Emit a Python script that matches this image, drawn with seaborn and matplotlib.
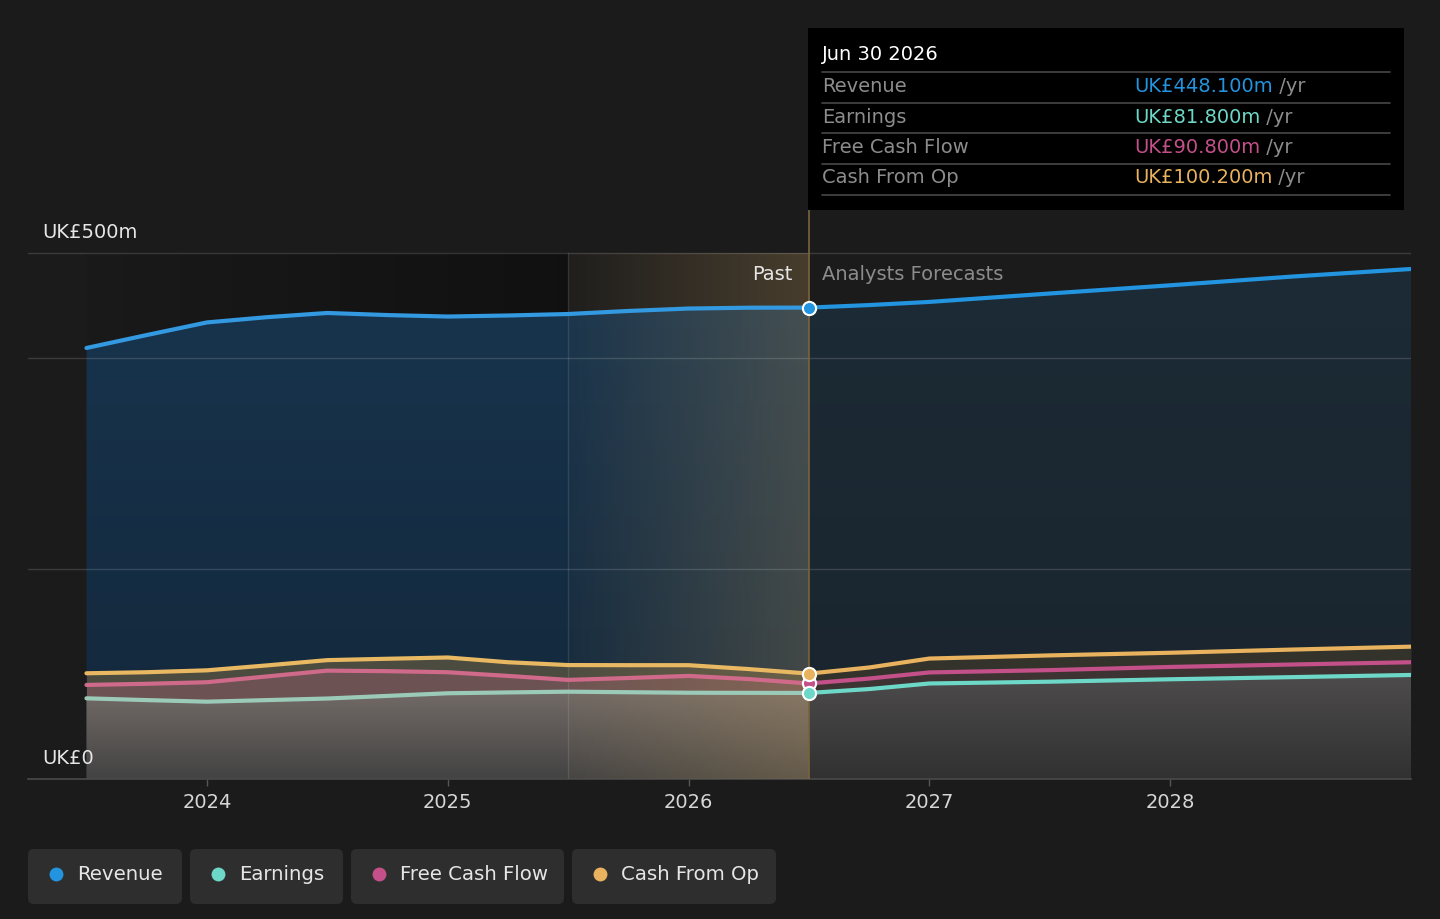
import matplotlib
matplotlib.use("Agg")
import matplotlib.pyplot as plt
from matplotlib.patches import Rectangle, FancyBboxPatch
import matplotlib.colors as mcolors
import seaborn as sns
import pandas as pd
import numpy as np

# ---- data (UK£ m, annualised), x in decimal years ----
years = [2023.5, 2023.75, 2024.0, 2024.25, 2024.5, 2024.75, 2025.0, 2025.25,
         2025.5, 2025.75, 2026.0, 2026.25, 2026.5,
         2026.75, 2027.0, 2027.5, 2028.0, 2028.5, 2029.0]
revenue = [409.7, 422.0, 434.0, 439.0, 443.0, 441.0, 439.6, 440.6,
           442.0, 444.9, 447.2, 448.0, 448.1,
           450.5, 453.5, 461.5, 469.3, 477.5, 484.8]
earnings = [76.7, 75.0, 73.5, 75.0, 76.5, 79.0, 81.5, 82.3,
            83.0, 82.5, 82.0, 81.9, 81.8,
            85.5, 90.8, 92.5, 94.8, 96.8, 98.9]
free_cash_flow = [89.4, 90.5, 92.0, 97.5, 103.0, 102.5, 101.5, 98.0,
                  94.2, 96.0, 98.0, 95.0, 90.8,
                  95.5, 101.3, 103.5, 106.5, 108.8, 111.0]
cash_from_op = [100.5, 101.5, 103.3, 108.0, 113.0, 114.3, 115.5, 111.0,
                108.3, 108.2, 108.2, 104.5, 100.2,
                106.0, 114.5, 117.5, 120.0, 123.0, 125.8]

tick_years = [2024, 2025, 2026, 2027, 2028]
past_end = 2026.5
highlight_start = 2025.5
tooltip_date = "Jun 30 2026"
series_names = ["Revenue", "Earnings", "Free Cash Flow", "Cash From Op"]
tooltip_values = ["UK£448.100m", "UK£81.800m", "UK£90.800m", "UK£100.200m"]

colors = {"Revenue": "#2394df", "Earnings": "#6dd8c7",
          "Free Cash Flow": "#c4508a", "Cash From Op": "#e8b25e"}
past_colors = {"Revenue": "#3399e0", "Earnings": "#9ccab8",
               "Free Cash Flow": "#d06a8a", "Cash From Op": "#e9b862"}

df = pd.DataFrame({"year": years, "Revenue": revenue, "Earnings": earnings,
                   "Free Cash Flow": free_cash_flow, "Cash From Op": cash_from_op})
past = df[df["year"] <= past_end]
fcst = df[df["year"] >= past_end]

BG = "#1b1b1b"
sns.set_theme(style="dark", rc={"figure.facecolor": BG, "axes.facecolor": BG})
plt.rcParams["font.family"] = ["DejaVu Sans"]

fig = plt.figure(figsize=(14.4, 9.19), dpi=100)
ax = fig.add_axes([28 / 1440, 140 / 919, 1383 / 1440, 569 / 919])
ax.set_facecolor(BG)

YMAX = 500 * (779 - 210) / 526.0
XMIN = 2024 - (207 - 28) / 241.0
XMAX = 2029.0


def vgrad(ax, x, lo, hi, c_top, c_bot, v_top, v_bot, z):
    poly = ax.fill_between(x, lo, hi, facecolor="none", edgecolor="none")
    path = poly.get_paths()[0]
    t = np.linspace(0, 1, 256)[:, None]
    a = np.array(mcolors.to_rgba(c_top))
    b = np.array(mcolors.to_rgba(c_bot))
    img = (a * (1 - t) + b * t)[:, None, :]
    im = ax.imshow(img, extent=[min(x), max(x), v_bot, v_top], aspect="auto",
                   origin="upper", zorder=z, interpolation="bilinear")
    im.set_clip_path(path, ax.transData)
    poly.remove()


def hgrad(ax, x0, x1, y0, y1, rgb, a0, a1, z):
    t = np.linspace(0, 1, 256)[None, :]
    img = np.zeros((1, 256, 4))
    img[..., :3] = mcolors.to_rgb(rgb)
    img[..., 3] = a0 * (1 - t) + a1 * t
    ax.imshow(img, extent=[x0, x1, y0, y1], aspect="auto", zorder=z,
              interpolation="bilinear")


# darker past background
hgrad(ax, 2023.5, highlight_start, 0, 500, "#000000", 0.05, 0.38, 0)

# revenue area
vgrad(ax, past["year"], 0, past["Revenue"], "#18354f", "#13273a", 500, 0, 1)
vgrad(ax, fcst["year"], 0, fcst["Revenue"], "#1c2b36", "#1a242d", 500, 0, 1)

# lower bands
for part, olive, red, gtop, gbot in [(past, "#4b4b40", "#6c5252", "#736b67", "#434343"),
                                      (fcst, "#33332c", "#3d3333", "#4e4c4c", "#313131")]:
    ax.fill_between(part["year"], part["Free Cash Flow"], part["Cash From Op"],
                    color=olive, lw=0, zorder=2)
    ax.fill_between(part["year"], part["Earnings"], part["Free Cash Flow"],
                    color=red, lw=0, zorder=2)
    vgrad(ax, part["year"], 0, part["Earnings"], gtop, gbot,
          part["Earnings"].max() + 1, 0, 2)

# highlighted last year of past
hgrad(ax, highlight_start, past_end, 0, 500, "#c8a060", 0.03, 0.26, 3)
ax.plot([highlight_start, highlight_start], [0, 500], color="#ffffff", alpha=0.1, lw=1, zorder=3)

# grid lines
for v in [200, 400, 500]:
    ax.axhline(v, color="#ffffff", alpha=0.14, lw=1, zorder=4)

# lines
for name in ["Revenue", "Earnings", "Free Cash Flow", "Cash From Op"]:
    sns.lineplot(data=past, x="year", y=name, ax=ax, color=past_colors[name],
                 lw=3, zorder=5, legend=False)
    sns.lineplot(data=fcst, x="year", y=name, ax=ax, color=colors[name],
                 lw=3, zorder=5, legend=False)

# divider
ax.axvline(past_end, color="#7a643c", lw=1.2, zorder=4)

# markers at divider
last = df[df["year"] == past_end].iloc[0]
for name in ["Free Cash Flow", "Cash From Op", "Earnings", "Revenue"]:
    ax.plot([past_end], [last[name]], "o", ms=9.5, mfc=colors[name], mec="white",
            mew=1.5, zorder=7)

ax.set_xlim(XMIN, XMAX)
ax.set_ylim(0, YMAX)
ax.set_yticks([])
ax.set_xticks(tick_years)
ax.set_xticklabels([str(y) for y in tick_years])
ax.tick_params(axis="x", colors="#555555", length=5, width=1, pad=5,
               labelcolor="#d6d6d6", labelsize=14, bottom=True)
ax.set_xlabel("")
ax.set_ylabel("")
for s in ["top", "left", "right"]:
    ax.spines[s].set_visible(False)
ax.spines["bottom"].set_color("#4a4a4a")
ax.spines["bottom"].set_linewidth(1.2)
ax.grid(False)

# ---- overlay in pixel coordinates ----
ov = fig.add_axes([0, 0, 1, 1], zorder=10)
ov.set_xlim(0, 1440)
ov.set_ylim(919, 0)
ov.axis("off")
ov.patch.set_alpha(0)

ov.text(42, 232, "UK£500m", color="#e6e6e6", fontsize=14, va="center", ha="left")
ov.text(42, 758, "UK£0", color="#e6e6e6", fontsize=14, va="center", ha="left")
ov.text(793, 274, "Past", color="#e6e6e6", fontsize=14, va="center", ha="right")
ov.text(822, 274, "Analysts Forecasts", color="#8c8c8c", fontsize=14, va="center", ha="left")

# tooltip
ov.add_patch(Rectangle((808, 28), 596, 182, facecolor="#000000", edgecolor="none"))
ov.text(822, 55, tooltip_date, color="#ffffff", fontsize=14, va="center")
for yy in [72, 103, 133, 164, 195]:
    ov.plot([822, 1390], [yy, yy], color="#474747", lw=1.2)
for i, (name, val) in enumerate(zip(series_names, tooltip_values)):
    yy = 87 + i * 30.3
    ov.text(822, yy, name, color="#8c8c8c", fontsize=14, va="center")
    t = ov.text(1134, yy, val, color=colors[name], fontsize=14, va="center")
    ov.annotate(" /yr", xy=(1, 0), xycoords=t, va="bottom", ha="left",
                color="#8c8c8c", fontsize=14)

# legend pills
pills = [(28, 182, 56, 77), (190, 343, 218, 239), (351, 564, 379, 400), (572, 776, 600, 621)]
for name, (x0, x1, dx, tx) in zip(series_names, pills):
    ov.add_patch(FancyBboxPatch((x0, 849), x1 - x0, 55,
                                boxstyle="round,pad=0,rounding_size=6",
                                facecolor="#2e2e2e", edgecolor="none"))
    ov.plot([dx], [874], "o", ms=10, color=colors[name], mew=0)
    ov.text(tx, 874, name, color="#e6e6e6", fontsize=14.2, va="center")

fig.savefig("out.png", dpi=100, facecolor=BG)
